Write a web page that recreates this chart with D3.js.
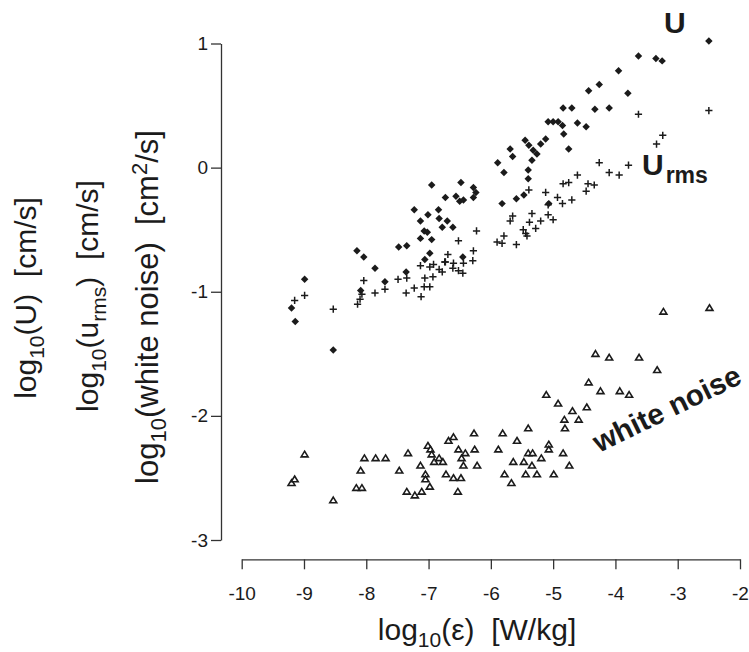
<!DOCTYPE html>
<html>
<head>
<meta charset="utf-8">
<script src="https://cdn.jsdelivr.net/npm/d3@7"></script>
<style>
  body { margin: 0; background: #fff; }
  svg { display: block; font-family: "Liberation Sans", Arial, Helvetica, sans-serif; }
</style>
</head>
<body>
<svg width="749" height="652"></svg>
<script>
// log10(U) - filled diamonds
var uPoints = [
  [-9.20, -1.13], [-9.14, -1.24], [-8.99, -0.90], [-8.53, -1.47], [-8.15, -0.67],
  [-8.04, -0.72], [-8.09, -0.99], [-7.86, -0.81], [-7.70, -0.92], [-7.48, -0.64],
  [-7.35, -0.63], [-7.36, -0.84], [-7.23, -0.34], [-7.13, -0.43], [-7.01, -0.38],
  [-6.84, -0.34], [-6.83, -0.41], [-6.70, -0.43], [-6.78, -0.48], [-7.07, -0.51],
  [-7.02, -0.52], [-7.13, -0.57], [-6.95, -0.58], [-6.98, -0.69], [-7.06, -0.74],
  [-6.95, -0.14], [-6.73, -0.24], [-6.48, -0.12], [-6.56, -0.23], [-6.50, -0.27],
  [-6.44, -0.26], [-6.28, -0.16], [-6.24, -0.20], [-6.28, -0.24], [-6.61, -0.48],
  [-6.45, -0.72], [-5.82, -0.29], [-5.59, -0.25], [-5.47, -0.22], [-5.40, -0.09],
  [-5.40, -0.02], [-5.89, 0.04], [-5.79, -0.04], [-5.69, 0.15], [-5.65, 0.09],
  [-5.45, 0.22], [-5.39, 0.18], [-5.32, 0.14], [-5.26, 0.11], [-5.34, 0.06],
  [-5.20, 0.19], [-5.12, 0.23], [-5.08, 0.37], [-5.00, 0.37], [-4.92, 0.37],
  [-4.85, 0.34], [-4.83, 0.27], [-4.75, 0.15], [-4.61, 0.36], [-4.47, 0.33],
  [-5.07, -0.29], [-4.84, 0.48], [-4.70, 0.48], [-4.33, 0.47], [-4.10, 0.48],
  [-4.43, 0.62], [-4.26, 0.67], [-3.80, 0.60], [-3.95, 0.78], [-3.63, 0.90],
  [-3.35, 0.88], [-3.25, 0.86], [-2.50, 1.02]
];

// log10(u_rms) - plus signs
var urmsPoints = [
  [-9.15, -1.07], [-8.99, -1.03], [-8.53, -1.14], [-8.14, -1.10], [-8.10, -1.06],
  [-8.07, -1.02], [-8.04, -0.91], [-7.86, -1.01], [-7.70, -0.98], [-7.49, -0.90],
  [-7.36, -1.01], [-7.35, -0.89], [-7.23, -0.97], [-7.12, -1.04], [-7.13, -0.79],
  [-7.06, -0.89], [-7.07, -0.96], [-6.98, -0.96], [-6.93, -0.88], [-6.98, -0.80],
  [-6.83, -0.82], [-6.78, -0.84], [-6.73, -0.76], [-6.69, -0.70], [-6.92, -0.78],
  [-6.74, -0.76], [-6.60, -0.77], [-6.61, -0.81], [-6.52, -0.83], [-6.45, -0.85],
  [-6.44, -0.77], [-6.52, -0.59], [-6.28, -0.67], [-6.29, -0.75], [-6.23, -0.51],
  [-5.90, -0.60], [-5.82, -0.61], [-5.79, -0.55], [-5.59, -0.62], [-5.69, -0.43],
  [-5.65, -0.39], [-5.48, -0.50], [-5.44, -0.53], [-5.42, -0.55], [-5.28, -0.49],
  [-5.38, -0.44], [-5.34, -0.37], [-5.20, -0.43], [-5.08, -0.38], [-5.00, -0.42],
  [-5.08, -0.30], [-4.93, -0.24], [-5.12, -0.20], [-5.39, -0.18], [-4.85, -0.29],
  [-4.70, -0.26], [-4.84, -0.13], [-4.75, -0.12], [-4.61, -0.06], [-4.47, -0.19],
  [-4.44, -0.13], [-4.34, -0.14], [-4.26, 0.04], [-4.10, -0.04], [-3.94, -0.06],
  [-3.79, 0.02], [-3.34, 0.19], [-3.24, 0.26], [-3.63, 0.43], [-2.50, 0.46]
];

// log10(white noise) - open triangles
var noisePoints = [
  [-9.20, -2.54], [-9.15, -2.51], [-8.99, -2.31], [-8.53, -2.68], [-8.16, -2.58],
  [-8.07, -2.58], [-8.09, -2.44], [-8.03, -2.34], [-7.85, -2.34], [-7.69, -2.34],
  [-7.47, -2.44], [-7.33, -2.30], [-7.35, -2.61], [-7.22, -2.64], [-7.11, -2.61],
  [-7.13, -2.40], [-7.05, -2.47], [-7.05, -2.51], [-6.98, -2.57], [-7.01, -2.24],
  [-6.97, -2.27], [-6.95, -2.31], [-6.91, -2.37], [-6.83, -2.34], [-6.77, -2.37],
  [-6.72, -2.47], [-6.68, -2.20], [-6.60, -2.17], [-6.52, -2.27], [-6.47, -2.34],
  [-6.60, -2.50], [-6.48, -2.50], [-6.53, -2.61], [-6.44, -2.40], [-6.41, -2.30],
  [-6.27, -2.14], [-6.26, -2.27], [-6.22, -2.40], [-5.88, -2.27], [-5.81, -2.14],
  [-5.78, -2.47], [-5.67, -2.54], [-5.64, -2.37], [-5.58, -2.20], [-5.47, -2.37],
  [-5.44, -2.47], [-5.40, -2.10], [-5.40, -2.30], [-5.33, -2.30], [-5.34, -2.40],
  [-5.26, -2.47], [-5.19, -2.34], [-5.07, -2.23], [-5.07, -2.27], [-4.99, -2.47],
  [-4.84, -2.30], [-4.74, -2.40], [-5.11, -1.83], [-4.92, -1.90], [-4.82, -2.03],
  [-4.81, -2.10], [-4.69, -1.96], [-4.59, -2.03], [-4.46, -1.93], [-4.43, -1.73],
  [-4.32, -1.50], [-4.24, -1.80], [-4.10, -1.53], [-3.93, -1.80], [-3.78, -1.83],
  [-3.62, -1.53], [-3.33, -1.63], [-3.23, -1.16], [-2.49, -1.13]
];

var xTicks = [-10, -9, -8, -7, -6, -5, -4, -3, -2];
var yTicks = [-3, -2, -1, 0, 1];

var svg = d3.select('svg');
var ink = '#1b1b1b';

// scales
var xScale = d3.scaleLinear().domain([-10, -2]).range([241.7, 740]);
var yScale = d3.scaleLinear().domain([-3, 1]).range([540, 43.5]);

// axes (separate, offset like the original)
var xAxis = d3.axisBottom(xScale)
    .tickValues(xTicks)
    .tickSize(10)
    .tickSizeOuter(0)
    .tickPadding(17)
    .tickFormat(d => String(d));
var yAxis = d3.axisLeft(yScale)
    .tickValues(yTicks)
    .tickSize(10)
    .tickSizeOuter(0)
    .tickPadding(3)
    .tickFormat(d => String(d));

var gx = svg.append('g')
    .attr('transform', 'translate(' + [0, 559.3] + ')')
    .call(xAxis);
var gy = svg.append('g')
    .attr('transform', 'translate(' + [221, 0] + ')')
    .call(yAxis);

[gx, gy].forEach(g => {
    g.attr('font-family', null);
    g.selectAll('path, line').attr('stroke', '#333').attr('stroke-width', 1.3);
    g.selectAll('text').attr('fill', ink).style('font-size', '19px');
});

// marker shapes (size = square of the marker width)
var plusShape = {
    draw: function(ctx, size) {
        var r = Math.sqrt(size) / 2;
        ctx.moveTo(-r, 0); ctx.lineTo(r, 0);
        ctx.moveTo(0, -r); ctx.lineTo(0, r);
    }
};
var triShape = {
    draw: function(ctx, size) {
        var s = Math.sqrt(size);
        ctx.moveTo(0, -s * 0.5);
        ctx.lineTo(s * 0.55, s * 0.4);
        ctx.lineTo(-s * 0.55, s * 0.4);
        ctx.closePath();
    }
};

svg.append('g').selectAll('path')
    .data(noisePoints)
    .enter().append('path')
    .attr('d', d3.symbol(triShape, 40)())
    .attr('transform', d => 'translate(' + [xScale(d[0]), yScale(d[1])] + ')')
    .attr('fill', 'white')
    .attr('stroke', ink)
    .attr('stroke-width', 1.6);

svg.append('g').selectAll('path')
    .data(urmsPoints)
    .enter().append('path')
    .attr('d', d3.symbol(plusShape, 52)())
    .attr('transform', d => 'translate(' + [xScale(d[0]), yScale(d[1])] + ')')
    .attr('fill', 'none')
    .attr('stroke', ink)
    .attr('stroke-width', 1.5);

svg.append('g').selectAll('path')
    .data(uPoints)
    .enter().append('path')
    .attr('d', d3.symbol(d3.symbolSquare, 28)())
    .attr('transform', d => 'translate(' + [xScale(d[0]), yScale(d[1])] + ') rotate(45)')
    .attr('fill', ink);

// x title
var xt = svg.append('text')
    .attr('x', 477).attr('y', 640)
    .attr('text-anchor', 'middle')
    .attr('fill', ink)
    .style('font-size', '30px');
xt.append('tspan').text('log');
xt.append('tspan').attr('dy', 7).style('font-size', '21px').text('10');
xt.append('tspan').attr('dy', -7).text('(ε)\u00a0\u00a0[W/kg]');

// y titles
function yTitle(x, y, size, parts) {
    var t = svg.append('text')
        .attr('transform', 'translate(' + [x, y] + ') rotate(-90)')
        .attr('text-anchor', 'middle')
        .attr('fill', ink)
        .style('font-size', size);
    parts.forEach(p => {
        var s = t.append('tspan').text(p.t);
        if (p.dy) s.attr('dy', p.dy);
        if (p.fs) s.style('font-size', p.fs);
    });
}
yTitle(36, 298, '30px', [{t: 'log'}, {t: '10', dy: 8, fs: '21px'}, {t: '(U)\u00a0\u00a0[cm/s]', dy: -8}]);
yTitle(98, 296, '30px', [{t: 'log'}, {t: '10', dy: 8, fs: '21px'}, {t: '(u', dy: -8},
    {t: 'rms', dy: 8, fs: '21px'}, {t: ')\u00a0\u00a0[cm/s]', dy: -8}]);
yTitle(158, 307, '31px', [{t: 'log'}, {t: '10', dy: 8, fs: '22px'}, {t: '(white noise)\u00a0\u00a0[cm', dy: -8},
    {t: '2', dy: -11, fs: '22px'}, {t: '/s]', dy: 11}]);

// series labels
svg.append('text')
    .attr('x', 664).attr('y', 33)
    .attr('fill', ink)
    .style('font-size', '30px').style('font-weight', 'bold')
    .text('U');

var ur = svg.append('text')
    .attr('x', 642).attr('y', 175)
    .attr('fill', ink)
    .style('font-size', '30px').style('font-weight', 'bold');
ur.append('tspan').text('U');
ur.append('tspan').attr('dx', 2).attr('dy', 8).style('font-size', '23px').text('rms');

svg.append('text')
    .attr('transform', 'translate(599,453) rotate(-26)')
    .attr('fill', ink)
    .style('font-size', '29.5px').style('font-weight', 'bold')
    .text('white noise');
</script>
</body>
</html>
